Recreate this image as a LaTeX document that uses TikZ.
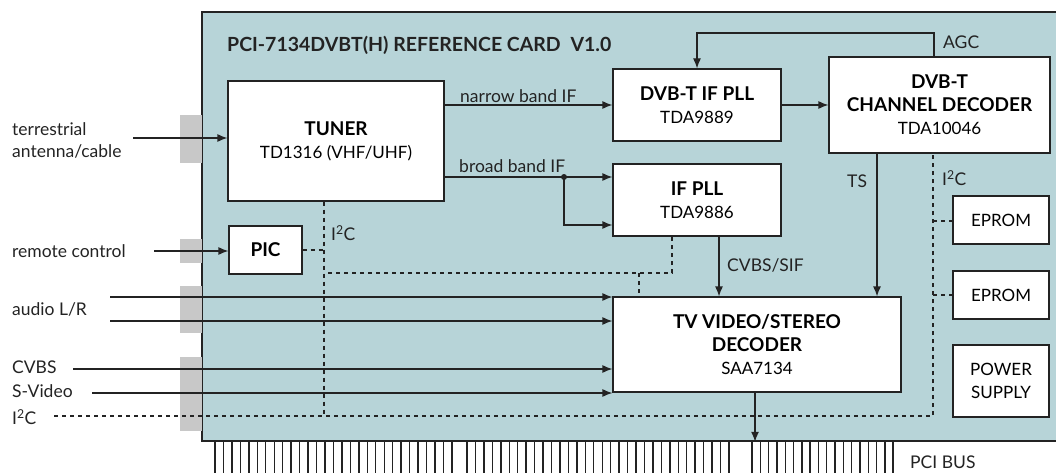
\documentclass[tikz,border=0pt]{standalone}
\usepackage{fontspec}
\setmainfont{Lato}
\usepackage{tikz}
\usetikzlibrary{arrows,arrows.meta,shapes,positioning}
\usepackage{xcolor}
\definecolor{cardblue}{RGB}{183,212,216}
\definecolor{tabgray}{RGB}{200,200,200}
\definecolor{linegray}{RGB}{35,35,35}
\newcommand{\blockhead}[1]{{\fontsize{19}{23}\selectfont\bfseries #1}}
\tikzstyle{arrow} = [line width=1.2pt,->,>={Latex[length=10pt,width=8pt]},color=linegray]
\tikzstyle{wire} = [line width=1.2pt,color=linegray]
\tikzstyle{bus} = [line width=2pt,color=linegray,dash pattern=on 4pt off 4pt]
\tikzstyle{block} = [rectangle, draw=linegray, fill=white, line width=1.2pt, align=center, inner sep=0pt, font=\fontsize{17}{23}\selectfont]
\tikzstyle{signal} = [inner sep=0pt, color=linegray, font=\fontsize{17.5}{22}\selectfont]
\tikzstyle{tab} = [fill=tabgray, draw=none]

\begin{document}
\begin{tikzpicture}[x=1pt, y=-1pt]
\useasboundingbox (0,0) rectangle (1056,473);
% Card
\node (card) [rectangle, draw=linegray, fill=cardblue, line width=1.5pt, minimum width=858pt, minimum height=429pt, inner sep=0pt] at (631,226.5) {};
\node (title) [signal, anchor=west] at (227,45) {\fontsize{19.5}{22}\selectfont\bfseries PCI-7134DVBT(H) REFERENCE CARD\enspace V1.0};

% Edge connector
\foreach \i in {0,...,28} \draw[wire, line width=1.4pt] (215+\i*8.46,441) -- ++(0,35);
\foreach \i in {0,...,31} \draw[wire, line width=1.4pt] (467+\i*8.45,441) -- ++(0,35);
\foreach \i in {0,...,17} \draw[wire, line width=1.4pt] (752+\i*8.3,441) -- ++(0,35);
\node (pcibus) [signal, anchor=west] at (910,462) {PCI BUS};

% Input tabs
\fill[tab] (180,115) rectangle (202,163);
\fill[tab] (180,239) rectangle (202,263);
\fill[tab] (180,286) rectangle (202,333);
\fill[tab] (180,357) rectangle (202,431);

% Blocks
\node (tuner) [block, minimum width=216pt, minimum height=120pt] at (336,141) {\blockhead{TUNER}\\TD1316 (VHF/UHF)};
\node (pic) [block, minimum width=73pt, minimum height=48pt] at (265.5,250) {\blockhead{PIC}};
\node (dvbif) [block, minimum width=168pt, minimum height=72pt] at (697,105) {\blockhead{DVB-T IF PLL}\\TDA9889};
\node (ifpll) [block, below of=dvbif, node distance=95pt, minimum width=168pt, minimum height=72pt] {\blockhead{IF PLL}\\TDA9886};
\node (chdec) [block, minimum width=221pt, minimum height=96pt] at (939.5,105) {\blockhead{DVB-T}\\\blockhead{CHANNEL DECODER}\\TDA10046};
\node (saa) [block, minimum width=288pt, minimum height=95pt] at (757,344.5) {\blockhead{TV VIDEO/STEREO}\\\blockhead{DECODER}\\SAA7134};
\node (eprom1) [block, minimum width=96pt, minimum height=48pt] at (1001,220) {EPROM};
\node (eprom2) [block, below of=eprom1, node distance=75pt, minimum width=96pt, minimum height=48pt] {EPROM};
\node (power) [block, below of=eprom2, node distance=86pt, minimum width=96pt, minimum height=72pt] {POWER\\SUPPLY};

% Outside signals
\coordinate (ant) at (133,138);
\coordinate (rc) at (154,251);
\coordinate (audl) at (110,297);
\coordinate (audr) at (110,321);
\coordinate (cvbs) at (73,369);
\coordinate (svid) at (92,393);
\coordinate (i2cin) at (54,416);
\node (antlbl) [signal, anchor=west, align=left] at (12,140) {terrestrial\\antenna/cable};
\node (rclbl) [signal, anchor=west] at (12,251) {remote control};
\node (audlbl) [signal, anchor=west] at (12,309) {audio L/R};
\node (cvbslbl) [signal, anchor=west] at (12,367) {CVBS};
\node (svidlbl) [signal, anchor=west] at (12,391) {S-Video};
\node (i2clbl) [signal, anchor=west] at (12,417) {I\textsuperscript{2}C};

% Signal paths
\draw[arrow] (ant) -- (ant -| tuner.west);
\draw[arrow] (rc) -- (rc -| pic.west);
\draw[arrow] (tuner.east |- dvbif.west) -- (dvbif.west);
\draw[arrow] (dvbif.east) -- (dvbif.east -| chdec.west);
\coordinate (agc) at (934,33);
\draw[arrow] (agc |- chdec.north) -- (agc) -| (dvbif.north);
\coordinate (split) at (564,177);
\draw[arrow] (split -| tuner.east) -- (split -| ifpll.west);
\draw[arrow] (split) |- ([yshift=-25pt]ifpll.west);
\fill[linegray] (split) circle (3pt);
\draw[arrow] (ifpll.south -| 719,0) -- (saa.north -| 719,0);
\draw[arrow] (chdec.south -| 877,0) -- (saa.north -| 877,0);
\draw[arrow] (saa.south -| 755,0) -- (card.south -| 755,0);
\draw[arrow] (audl) -- (audl -| saa.west);
\draw[arrow] (audr) -- (audr -| saa.west);
\draw[arrow] (cvbs) -- (cvbs -| saa.west);
\draw[arrow] (svid) -- (svid -| saa.west);

% I2C bus
\draw[bus] (i2cin) -| (chdec.south -| 933,0);
\draw[bus] (tuner.south -| 324,0) -- (324,416);
\draw[bus] (pic.east) -- (pic.east -| 324,0);
\draw[bus] (328,273) -| (ifpll.south -| 672,0);
\draw[bus] (639,273) -- (saa.north -| 639,0);
\draw[bus] (933,221) -- (933,221 -| eprom1.west);
\draw[bus] (933,295) -- (933,295 -| eprom2.west);

% Labels
\node (nbif) [signal, anchor=west] at (460,96) {narrow band IF};
\node (bbif) [signal, anchor=west] at (459,166) {broad band IF};
\node (agclbl) [signal, anchor=west] at (943,42) {AGC};
\node (tslbl) [signal, anchor=west] at (847,181) {TS};
\node (cvbssif) [signal, anchor=west] at (727,265) {CVBS/SIF};
\node (i2ca) [signal, anchor=west] at (331,233) {I\textsuperscript{2}C};
\node (i2cb) [signal, anchor=west] at (942,178) {I\textsuperscript{2}C};
\end{tikzpicture}
\end{document}
